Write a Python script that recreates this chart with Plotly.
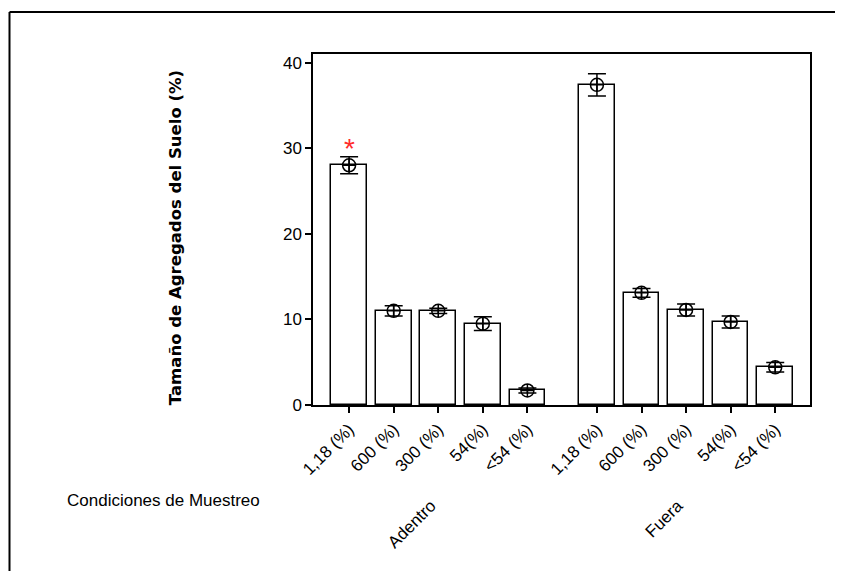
import plotly.graph_objects as go

groups = ["Adentro", "Fuera"]
sizes = ["1,18 (%)", "600 (%)", "300 (%)", "54(%)", "<54 (%)"]
adentro_mean = [28.0, 11.0, 11.0, 9.5, 1.7]
adentro_err = [1.0, 0.6, 0.3, 0.8, 0.3]
fuera_mean = [37.4, 13.1, 11.1, 9.7, 4.4]
fuera_err = [1.3, 0.5, 0.7, 0.7, 0.55]
y_ticks = [0, 10, 20, 30, 40]

GROUP_STEP = 5.56
FONT = "Liberation Sans, Arial, sans-serif"
TITLE_FONT = "DejaVu Sans, Verdana, sans-serif"
FS = 17

# page body has an 8px margin; figure coordinates are window coordinates minus 8
W, H = 835, 563
L, T = 305, 46
PW, PH = 497, 350.7


def px(wx):
    return (wx - 313) / PW


def py(wy):
    return (404.7 - wy) / PH


fig = go.Figure()
tickvals, ticktext, mids = [], [], []
for g, (means, errs) in enumerate([(adentro_mean, adentro_err), (fuera_mean, fuera_err)]):
    xs = [i + g * GROUP_STEP for i in range(len(sizes))]
    tickvals += xs
    ticktext += sizes
    mids.append(xs[len(xs) // 2])
    fig.add_trace(go.Bar(
        x=xs, y=means, width=0.8,
        marker=dict(color="white", line=dict(color="black", width=1.5)),
        showlegend=False, hoverinfo="skip"))
    fig.add_trace(go.Scatter(
        x=xs, y=means, mode="markers",
        marker=dict(symbol="circle-cross-open", size=13, color="black",
                    line=dict(width=1.5, color="black")),
        error_y=dict(type="data", array=errs, visible=True, color="black",
                     thickness=1.5, width=9),
        showlegend=False))

# significance asterisk above the first bar
fig.add_annotation(x=tickvals[0], y=adentro_mean[0] + adentro_err[0] + 1.0,
                   text="*", showarrow=False,
                   font=dict(color="#ff2a2a", size=28, family=FONT),
                   yanchor="middle")

for name, m in zip(groups, mids):
    fig.add_annotation(x=m + 0.09, xref="x", y=py(493), yref="paper", text=name,
                       showarrow=False, textangle=-45, xanchor="right", yanchor="top",
                       font=dict(size=FS, color="black", family=FONT))

fig.add_annotation(x=px(65), xref="paper", y=py(500), yref="paper",
                   text="Condiciones de Muestreo", showarrow=False,
                   xanchor="left", yanchor="middle",
                   font=dict(size=FS, color="black", family=FONT))

fig.add_annotation(x=px(175), xref="paper", y=py(238), yref="paper",
                   text="<b>Tamaño de Agregados del Suelo (%)</b>", showarrow=False,
                   textangle=-90, xanchor="center", yanchor="middle",
                   font=dict(size=16.5, color="black", family=TITLE_FONT))

# outer frame (top and left lines)
fig.add_shape(type="line", xref="paper", yref="paper",
              x0=px(9.5), x1=px(860), y0=py(12), y1=py(12),
              line=dict(color="black", width=2))
fig.add_shape(type="line", xref="paper", yref="paper",
              x0=px(9.5), x1=px(9.5), y0=py(12), y1=py(600),
              line=dict(color="black", width=2))

fig.update_layout(
    width=W, height=H,
    margin=dict(l=L, r=W - L - PW, t=T, b=H - T - PH, autoexpand=False),
    paper_bgcolor="white", plot_bgcolor="white",
    font=dict(family=FONT, size=FS, color="black"),
    bargap=0,
    xaxis=dict(range=[-0.81, 10.34], tickvals=tickvals, ticktext=ticktext,
               tickangle=-45, ticks="outside", ticklen=6, tickcolor="black",
               tickwidth=1.5,
               showline=True, linecolor="black", linewidth=1.5, mirror=True,
               showgrid=False, zeroline=False, tickfont=dict(size=FS)),
    yaxis=dict(range=[0, 41], tickvals=y_ticks, ticks="outside", ticklen=6,
               tickcolor="black", tickwidth=1.5, showline=True, linecolor="black",
               linewidth=1.5, mirror=True, showgrid=False, zeroline=False,
               tickfont=dict(size=FS)),
)

fig.write_html("out.html")
